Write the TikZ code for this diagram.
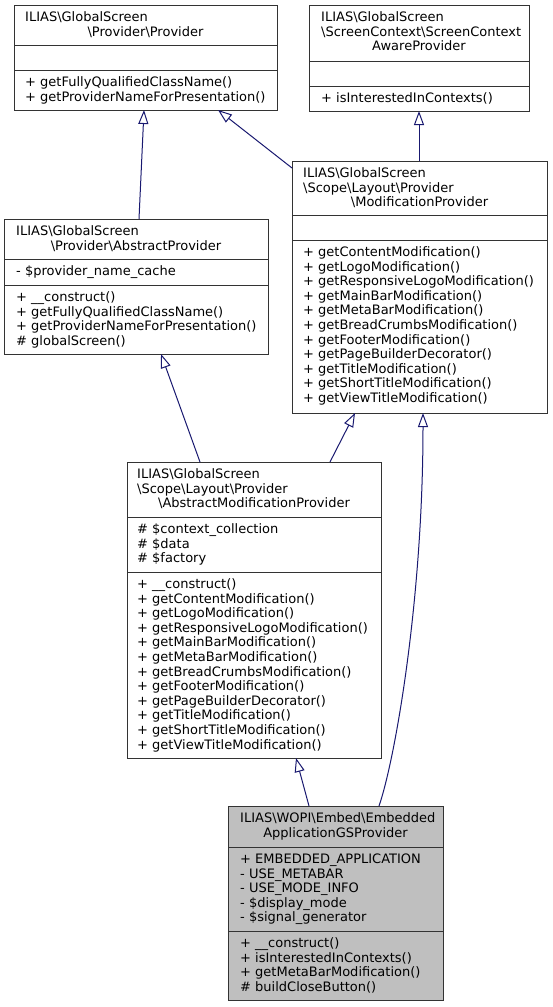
\documentclass[tikz,border=0pt]{standalone}
\usepackage{fontspec}
\newfontfamily\dv{DejaVu Sans}
\usetikzlibrary{arrows.meta}
\definecolor{edgeblue}{HTML}{191970}
\definecolor{focal}{HTML}{BFBFBF}
\newcommand{\bs}{\textbackslash}
\newcommand{\ml}[1]{\begin{tabular}[t]{@{}l@{}}#1\end{tabular}}
\begin{document}
\begin{tikzpicture}[x=1pt,y=-1pt,
 cls/.style={draw=black!80, line width=1pt, fill=white, inner sep=0pt, outer sep=0pt, rectangle},
 txt/.style={font=\dv\fontsize{13}{14.6}\selectfont, inner sep=0pt, anchor=base west},
 ctxt/.style={txt, anchor=base},
 sepline/.style={draw=black!80, line width=1pt},
 inh/.style={draw=edgeblue, line width=1pt, -{Triangle[open, length=14pt, width=10pt]}}]
\useasboundingbox[fill=white] (0,0) rectangle (552,1007);

% ---- Provider
\node[cls, minimum width=263pt, minimum height=105pt] (pp) at (145.5,57.5) {};
\draw[sepline] (pp.west |- 0,45) -- (pp.east |- 0,45);
\draw[sepline] (pp.west |- 0,70) -- (pp.east |- 0,70);
\node[txt] (pp-t1) at (25,21.5) {ILIAS\bs GlobalScreen};
\node[ctxt] (pp-t2) at (145.5,36.1) {\bs Provider\bs Provider};
\node[txt] (pp-m) at (25,86.5) {\ml{+ getFullyQualifiedClassName()\\+ getProviderNameForPresentation()}};

% ---- ScreenContextAwareProvider
\node[cls, minimum width=220pt, minimum height=106pt] (scap) at (419,58) {};
\draw[sepline] (scap.west |- 0,61) -- (scap.east |- 0,61);
\draw[sepline] (scap.west |- 0,86) -- (scap.east |- 0,86);
\node[txt] (scap-t1) at (321,21.5) {\ml{ILIAS\bs GlobalScreen\\\bs ScreenContext\bs ScreenContext}};
\node[ctxt] (scap-t2) at (419,50.7) {AwareProvider};
\node[txt] (scap-m) at (321,102.5) {\ml{+ isInterestedInContexts()}};

% ---- AbstractProvider
\node[cls, minimum width=264pt, minimum height=135pt] (ap) at (136,286.5) {};
\draw[sepline] (ap.west |- 0,259) -- (ap.east |- 0,259);
\draw[sepline] (ap.west |- 0,285) -- (ap.east |- 0,285);
\node[txt] (ap-t1) at (16,235.5) {ILIAS\bs GlobalScreen};
\node[ctxt] (ap-t2) at (136,250.1) {\bs Provider\bs AbstractProvider};
\node[txt] (ap-a) at (16,275.5) {\ml{- \$provider\_name\_cache}};
\node[txt] (ap-m) at (16,301.5) {\ml{+ \_\_construct()\\+ getFullyQualifiedClassName()\\+ getProviderNameForPresentation()\\\# globalScreen()}};

% ---- ModificationProvider
\node[cls, minimum width=255pt, minimum height=252pt] (mp) at (419.5,287) {};
\draw[sepline] (mp.west |- 0,215) -- (mp.east |- 0,215);
\draw[sepline] (mp.west |- 0,240) -- (mp.east |- 0,240);
\node[txt] (mp-t1) at (303,177.5) {\ml{ILIAS\bs GlobalScreen\\\bs Scope\bs Layout\bs Provider}};
\node[ctxt] (mp-t2) at (419.5,206.7) {\bs ModificationProvider};
\node[txt] (mp-m) at (303,256.5) {\ml{+ getContentModification()\\+ getLogoModification()\\+ getResponsiveLogoModification()\\+ getMainBarModification()\\+ getMetaBarModification()\\+ getBreadCrumbsModification()\\+ getFooterModification()\\+ getPageBuilderDecorator()\\+ getTitleModification()\\+ getShortTitleModification()\\+ getViewTitleModification()}};

% ---- AbstractModificationProvider
\node[cls, minimum width=254pt, minimum height=296pt] (amp) at (254,610) {};
\draw[sepline] (amp.west |- 0,517) -- (amp.east |- 0,517);
\draw[sepline] (amp.west |- 0,572) -- (amp.east |- 0,572);
\node[txt] (amp-t1) at (137,478.5) {\ml{ILIAS\bs GlobalScreen\\\bs Scope\bs Layout\bs Provider}};
\node[ctxt] (amp-t2) at (254,507.7) {\bs AbstractModificationProvider};
\node[txt] (amp-a) at (137,533.5) {\ml{\# \$context\_collection\\\# \$data\\\# \$factory}};
\node[txt] (amp-m) at (137,588.5) {\ml{+ \_\_construct()\\+ getContentModification()\\+ getLogoModification()\\+ getResponsiveLogoModification()\\+ getMainBarModification()\\+ getMetaBarModification()\\+ getBreadCrumbsModification()\\+ getFooterModification()\\+ getPageBuilderDecorator()\\+ getTitleModification()\\+ getShortTitleModification()\\+ getViewTitleModification()}};

% ---- EmbeddedApplicationGSProvider
\node[cls, fill=focal, minimum width=215pt, minimum height=194pt] (eap) at (335.5,903) {};
\draw[sepline] (eap.west |- 0,847) -- (eap.east |- 0,847);
\draw[sepline] (eap.west |- 0,931) -- (eap.east |- 0,931);
\node[txt] (eap-t1) at (240,822.5) {ILIAS\bs WOPI\bs Embed\bs Embedded};
\node[ctxt] (eap-t2) at (335.5,837.1) {ApplicationGSProvider};
\node[txt] (eap-a) at (240,863.5) {\ml{+ EMBEDDED\_APPLICATION\\- USE\_METABAR\\- USE\_MODE\_INFO\\- \$display\_mode\\- \$signal\_generator}};
\node[txt] (eap-m) at (240,947.5) {\ml{+ \_\_construct()\\+ isInterestedInContexts()\\+ getMetaBarModification()\\\# buildCloseButton()}};

% ---- inheritance edges
\draw[inh] (ap.north -| 139,0) -- (pp.south -| 144,0);
\draw[inh] (mp.west |- 0,168) -- (pp.south -| 218,0);
\draw[inh] (mp.north -| 419,0) -- (scap.south -| 419,0);
\draw[inh] (amp.north -| 200,0) -- (ap.south -| 161,0);
\draw[inh] (amp.north -| 330,0) -- (mp.south -| 355,0);
\draw[inh] (eap.north -| 309,0) -- (amp.south -| 296,0);
\draw[inh] (eap.north -| 379,0) .. controls (395,760) and (423,600) .. (mp.south -| 423,0);
\end{tikzpicture}
\end{document}
